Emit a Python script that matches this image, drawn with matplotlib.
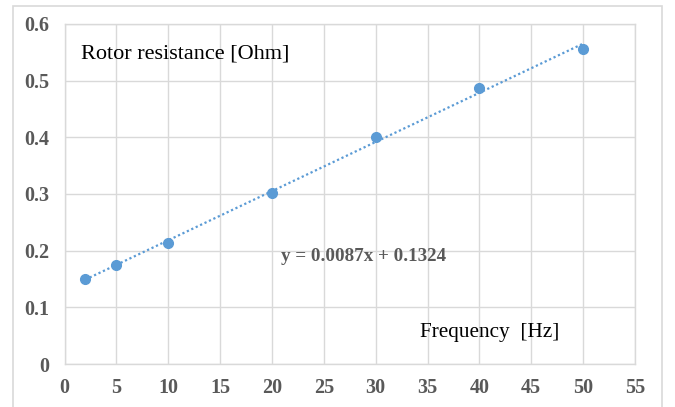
import numpy as np
import matplotlib
matplotlib.use("Agg")
import matplotlib.pyplot as plt
from matplotlib.patches import Rectangle

# data
frequency = [2, 5, 10, 20, 30, 40, 50]
resistance = [0.150, 0.175, 0.213, 0.302, 0.400, 0.487, 0.556]
x_ticks = [0, 5, 10, 15, 20, 25, 30, 35, 40, 45, 50, 55]
y_ticks = [0, 0.1, 0.2, 0.3, 0.4, 0.5, 0.6]
y_tick_labels = ["0", "0.1", "0.2", "0.3", "0.4", "0.5", "0.6"]
equation = "y = 0.0087x + 0.1324"

blue = "#5B9BD5"
grid_col = "#d9d9d9"
tick_col = "#595959"

plt.rcParams["font.family"] = ["Liberation Serif", "DejaVu Serif"]

fig = plt.figure(figsize=(6.75, 4.07), dpi=100)
fig.patches.append(Rectangle((13 / 675, -0.05), 649 / 675, 1.05 - 6 / 407,
                             transform=fig.transFigure, fill=False,
                             edgecolor=grid_col, linewidth=1.2))
ax = fig.add_axes([64.5 / 675, 1 - 364 / 407, 570.5 / 675, 340 / 407])

# linear trendline
coef = np.polyfit(frequency, resistance, 1)
xs = np.array([min(frequency), max(frequency)])
ax.plot(xs, np.polyval(coef, xs), linestyle=(0, (1, 1.2)), color=blue,
        linewidth=1.6, zorder=2)
ax.plot(frequency, resistance, "o", color=blue, markersize=7, zorder=3)

ax.set_xlim(0, 55)
ax.set_ylim(0, 0.6)
ax.set_xticks(x_ticks)
ax.set_yticks(y_ticks)
ax.set_yticklabels(y_tick_labels)
ax.grid(True, color=grid_col, linewidth=1)
ax.set_axisbelow(True)
for s in ax.spines.values():
    s.set_color(grid_col)
    s.set_linewidth(1)
ax.tick_params(length=0, labelsize=14.5, labelcolor=tick_col)
ax.tick_params(axis="y", pad=11)
ax.tick_params(axis="x", pad=10)
for lab in ax.get_xticklabels() + ax.get_yticklabels():
    lab.set_fontweight("bold")

ax.text(1.6, 0.547, "Rotor resistance [Ohm]", fontsize=16, va="center", ha="left")
ax.text(20.9, 0.189, equation, fontsize=13.7, fontweight="bold",
        color=tick_col, va="center", ha="left")
ax.text(34.25, 0.055, "Frequency  [Hz]", fontsize=15.3, va="center", ha="left")

fig.savefig("out.png", dpi=100)
